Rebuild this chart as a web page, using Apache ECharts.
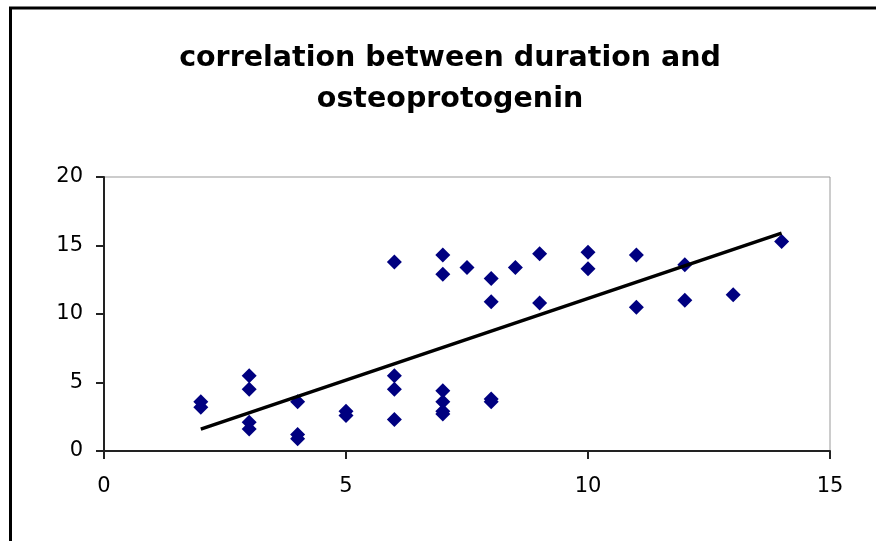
<!DOCTYPE html>
<html>
<head>
<meta charset="utf-8">
<script src="https://cdn.jsdelivr.net/npm/echarts@6/dist/echarts.min.js"></script>
<style>html,body{margin:0;padding:0;background:#fff;}#c{width:876px;height:541px;}</style>
</head>
<body>
<div id="c"></div>
<script>
const durationX = [2,2,3,3,3,3,4,4,4,5,5,6,6,6,6,7,7,7,7,7,7,7.5,8,8,8,8,8.5,9,9,10,10,11,11,12,12,13,14];
const osteoY = [3.6,3.2,5.5,4.5,2.1,1.6,3.6,1.2,0.9,2.9,2.6,13.8,5.5,4.5,2.3,14.3,12.9,4.4,3.6,2.9,2.7,13.4,12.6,10.9,3.8,3.6,13.4,14.4,10.8,14.5,13.3,14.3,10.5,13.6,11.0,11.4,15.3];
const trendX = [2, 14];
const trendY = [1.6, 15.9];
const titleText = 'correlation between duration and\nosteoprotogenin';

const chart = echarts.init(document.getElementById('c'), null, {renderer: 'canvas'});
chart.setOption({
  animation: false,
  backgroundColor: '#ffffff',
  title: {
    text: titleText,
    left: 445,
    textAlign: 'center',
    top: 33,
    textStyle: {fontFamily: 'DejaVu Sans', fontWeight: 'bold', fontSize: 28.5, lineHeight: 41, color: '#000'}
  },
  graphic: [{
    type: 'rect', silent: true,
    shape: {x: 10.5, y: 8, width: 1000, height: 1000},
    style: {fill: 'none', stroke: '#000', lineWidth: 3}
  }],
  grid: {left: 104, top: 177, right: 46, bottom: 90, show: true, borderColor: '#999', borderWidth: 1, backgroundColor: 'transparent'},
  xAxis: {
    type: 'value', min: 0, max: 15, interval: 5,
    axisLine: {show: true, onZero: false, lineStyle: {color: '#222', width: 2}},
    axisTick: {show: true, length: 8, lineStyle: {color: '#222', width: 2}},
    splitLine: {show: false},
    axisLabel: {fontFamily: 'DejaVu Sans', fontSize: 21, color: '#000', margin: 25}
  },
  yAxis: {
    type: 'value', min: 0, max: 20, interval: 5,
    axisLine: {show: true, onZero: false, lineStyle: {color: '#222', width: 2}},
    axisTick: {show: true, length: 8, lineStyle: {color: '#222', width: 2}},
    splitLine: {show: false},
    axisLabel: {fontFamily: 'DejaVu Sans', fontSize: 21, color: '#000', margin: 21}
  },
  series: [
    {
      type: 'scatter',
      symbol: 'diamond',
      symbolSize: [15, 15],
      itemStyle: {color: '#000080', opacity: 1},
      data: durationX.map((x, i) => [x, osteoY[i]]),
      z: 2
    },
    {
      type: 'line',
      symbol: 'none',
      lineStyle: {color: '#000', width: 3.5},
      data: trendX.map((x, i) => [x, trendY[i]]),
      z: 3
    }
  ]
});
</script>
</body>
</html>
